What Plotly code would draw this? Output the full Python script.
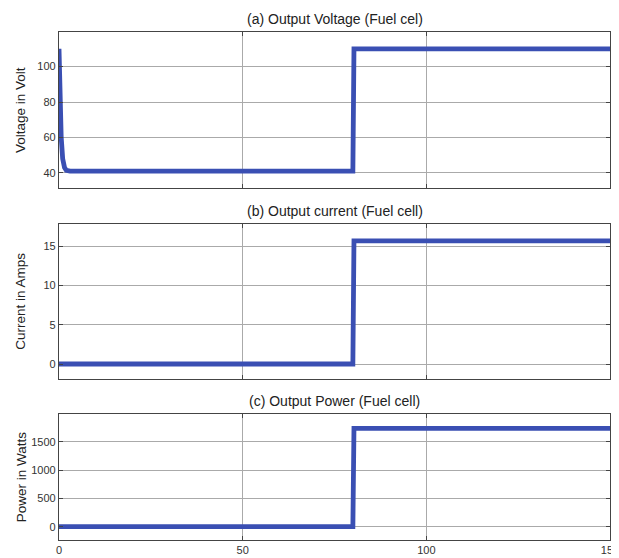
import plotly.graph_objects as go

# the page body has an 8px margin; the figure is sized to fill the rest
OFF = 8
W, H = 619 - OFF, 558 - OFF

# Data (time in s)
t_volt = [0, 0.3, 0.6, 1.0, 1.5, 2.0, 3.0, 80.0, 80.3, 150]
volt = [110, 80, 60, 48, 43, 41.5, 41, 41, 110, 110]

t_cur = [0, 80.0, 80.3, 150]
cur = [0, 0, 15.7, 15.7]

t_pow = [0, 80.0, 80.3, 150]
pw = [0, 0, 1740, 1740]

titles = ["(a) Output Voltage (Fuel cel)", "(b) Output current (Fuel cell)", "(c) Output Power (Fuel cell)"]
ylabels = ["Voltage in Volt", "Current in Amps", "Power in Watts"]
yranges = [[31.5, 119.5], [-1.95, 17.8], [-236, 1990]]
ydticks = [20, 5, 500]
yticks0 = [40, 0, 0]
xticks = [0, 50, 100, 150]

# pixel geometry of the three panels in the window (top, bottom)
panels = [(32, 188), (224.3, 379.3), (414.3, 540)]
x0, x1 = 59, 610

def px(v):
    return (v - OFF) / W

def py(v):
    return 1 - (v - OFF) / H

col = "#3a4fb3"
fig = go.Figure()
series = [(t_volt, volt), (t_cur, cur), (t_pow, pw)]
for i, (tx, ty) in enumerate(series):
    ax = "" if i == 0 else str(i + 1)
    fig.add_trace(go.Scatter(x=tx, y=ty, mode="lines", line=dict(color=col, width=4.8),
                             xaxis="x" + ax, yaxis="y" + ax, showlegend=False))

ann = []
for i in range(3):
    top, bot = panels[i]
    sfx = "" if i == 0 else str(i + 1)
    fig.layout["xaxis" + sfx] = dict(
        domain=[px(x0), px(x1)], range=[0, 150], tickvals=xticks,
        showticklabels=(i == 2), anchor="y" + sfx, ticklabeloverflow="allow",
        showgrid=True, gridcolor="#aaaaaa", gridwidth=1,
        showline=True, linecolor="#444", linewidth=1.2, mirror="ticks",
        ticks="inside", ticklen=4, tickcolor="#444", zeroline=False,
        tickfont=dict(size=11, color="#333"), automargin=False,
    )
    fig.layout["yaxis" + sfx] = dict(
        domain=[py(bot), py(top)], range=yranges[i],
        tick0=yticks0[i], dtick=ydticks[i], anchor="x" + sfx,
        showgrid=True, gridcolor="#aaaaaa", gridwidth=1,
        showline=True, linecolor="#444", linewidth=1.2, mirror="ticks",
        ticks="inside", ticklen=4, tickcolor="#444", zeroline=False,
        tickfont=dict(size=11, color="#333"), automargin=False,
    )
    ann.append(dict(text=titles[i], x=px((x0 + x1) / 2), y=py(top - 3),
                    xref="paper", yref="paper", xanchor="center", yanchor="bottom",
                    showarrow=False, font=dict(size=14, color="#222")))
    ann.append(dict(text=ylabels[i], x=px(21), y=py((top + bot) / 2),
                    xref="paper", yref="paper", xanchor="center", yanchor="middle",
                    textangle=-90, showarrow=False, font=dict(size=13.5, color="#222")))

fig.update_layout(
    width=W, height=H, margin=dict(l=0, r=0, t=0, b=0),
    paper_bgcolor="white", plot_bgcolor="white",
    font=dict(family="Liberation Sans, Arial, sans-serif"),
    annotations=ann,
)
fig.write_html("out.html")
